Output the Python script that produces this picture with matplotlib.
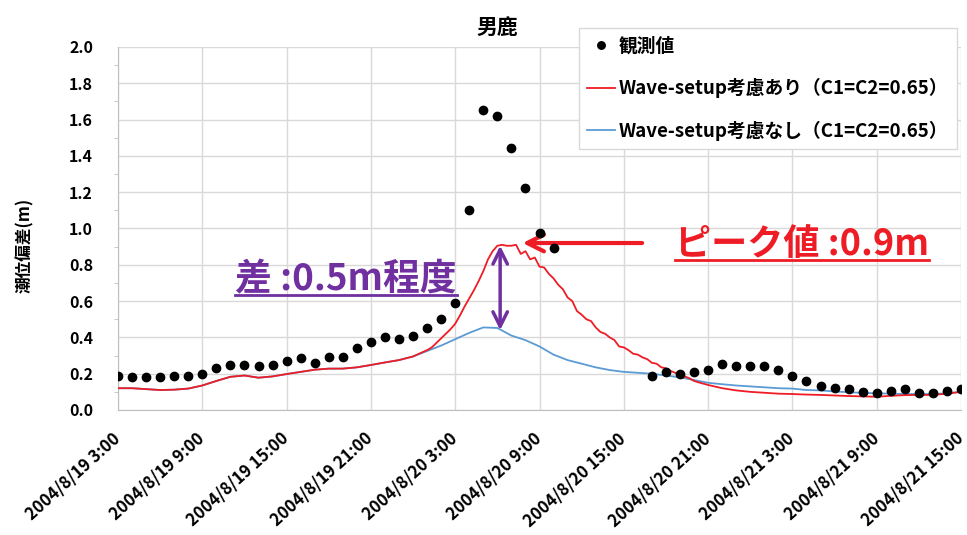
import numpy as np
import pandas as pd
import matplotlib
matplotlib.use('Agg')
import matplotlib.pyplot as plt
from matplotlib.ticker import MultipleLocator, FuncFormatter
from matplotlib.lines import Line2D
from matplotlib.transforms import ScaledTranslation

plt.rcParams['font.family'] = ['Noto Sans CJK JP', 'DejaVu Sans']
plt.rcParams['font.weight'] = 'bold'

start = pd.Timestamp('2004-08-19 03:00')

# observed (hourly from 2004/8/19 3:00), NaN = missing
obs = [0.19, 0.18, 0.18, 0.18, 0.19, 0.19, 0.20, 0.233, 0.25, 0.25,
       0.244, 0.25, 0.27, 0.285, 0.26, 0.294, 0.294, 0.343, 0.373, 0.402,
       0.391, 0.41, 0.45, 0.503, 0.591, 1.10, 1.653, 1.62, 1.442, 1.223,
       0.973, 0.89, np.nan, np.nan, np.nan, np.nan, np.nan, np.nan, 0.19, 0.211,
       0.20, 0.211, 0.222, 0.252, 0.244, 0.244, 0.244, 0.222, 0.19, 0.161,
       0.134, 0.12, 0.114, 0.10, 0.094, 0.105, 0.116, 0.094, 0.094, 0.105,
       0.116]

# without wave-setup (hourly)
blue = [0.12, 0.12, 0.115, 0.11, 0.112, 0.118, 0.135, 0.16, 0.183, 0.19,
        0.178, 0.185, 0.198, 0.21, 0.222, 0.228, 0.228, 0.235, 0.248, 0.262,
        0.275, 0.295, 0.325, 0.355, 0.39, 0.425, 0.455, 0.452, 0.41, 0.385,
        0.35, 0.305, 0.275, 0.255, 0.235, 0.22, 0.21, 0.205, 0.20, 0.19,
        0.18, 0.165, 0.15, 0.142, 0.135, 0.13, 0.125, 0.12, 0.118, 0.11,
        0.108, 0.102, 0.098, 0.094, 0.092, 0.09, 0.088, 0.088, 0.088, 0.092,
        0.10]

# with wave-setup: hourly 0-21h, every 20 min 22-42h, hourly 43-60h
red_a = [0.12, 0.12, 0.115, 0.11, 0.112, 0.118, 0.135, 0.16, 0.183, 0.19,
         0.178, 0.185, 0.198, 0.21, 0.222, 0.228, 0.228, 0.235, 0.248, 0.262,
         0.275, 0.295]
red_b = [0.33, 0.345, 0.37, 0.395, 0.42, 0.445, 0.475, 0.52, 0.57, 0.615,
         0.66, 0.71, 0.765, 0.83, 0.875, 0.905, 0.91, 0.905,
         0.905, 0.91, 0.86, 0.875, 0.83, 0.84, 0.79, 0.785, 0.75, 0.725,
         0.69, 0.665, 0.62, 0.60, 0.545, 0.525, 0.50, 0.49, 0.455, 0.43,
         0.42, 0.40, 0.385, 0.35, 0.345, 0.33, 0.31, 0.305, 0.29, 0.28,
         0.26, 0.255, 0.235, 0.23, 0.215, 0.205, 0.195, 0.185, 0.175, 0.16,
         0.152, 0.145, 0.138]
red_c = [0.12, 0.108, 0.10, 0.095, 0.09, 0.088, 0.085, 0.083, 0.08, 0.077,
         0.075, 0.073, 0.078, 0.082, 0.083, 0.083, 0.09, 0.10]

obs_t = start + pd.to_timedelta(np.arange(len(obs)), unit='h')
blue_t = start + pd.to_timedelta(np.arange(len(blue)), unit='h')
red_hours = np.concatenate([np.arange(len(red_a)),
                            22 + np.arange(len(red_b)) / 3.0,
                            43 + np.arange(len(red_c))])
red = red_a + red_b + red_c
red_t = start + pd.to_timedelta(red_hours, unit='h')

c_red = '#EE1C25'
c_blue = '#5B9BD5'
c_purple = '#7030A0'
c_grid = '#D9D9D9'

fig = plt.figure(figsize=(9.67, 5.35), dpi=100)
ax = fig.add_axes([118/967, 1-410/535, (961-118)/967, (410-47)/535])

ax.plot(obs_t, obs, 'o', color='black', markersize=6, label='観測値', zorder=4)
ax.plot(red_t, red, '-', color=c_red, lw=1.3, label='Wave-setup考慮あり（C1=C2=0.65）', zorder=3)
ax.plot(blue_t, blue, '-', color=c_blue, lw=1.3, label='Wave-setup考慮なし（C1=C2=0.65）', zorder=2)

ax.set_ylim(0, 2.0)
ax.set_xlim(start, start + pd.Timedelta(hours=60))
ticks = [start + pd.Timedelta(hours=6*i) for i in range(11)]
ax.set_xticks(ticks)
ax.set_xticklabels([f'{d.year}/{d.month}/{d.day} {d.hour}:{d.minute:02d}' for d in ticks],
                   rotation=42, ha='right', va='center', rotation_mode='anchor',
                   fontsize=12, fontweight='bold')
shift = ScaledTranslation(-7/72, 0, fig.dpi_scale_trans)
for lab in ax.get_xticklabels():
    lab.set_transform(lab.get_transform() + shift)
ax.yaxis.set_major_locator(MultipleLocator(0.2))
ax.yaxis.set_minor_locator(MultipleLocator(0.1))
ax.yaxis.set_major_formatter(FuncFormatter(lambda v, p: f'{v:.1f}'))
for lab in ax.get_yticklabels():
    lab.set_fontsize(11.5)
    lab.set_fontweight('bold')
ax.tick_params(axis='y', which='major', length=0, pad=18)
ax.tick_params(axis='y', which='minor', length=3, color='#BFBFBF')
ax.tick_params(axis='x', length=0, pad=19)
ax.grid(True, color=c_grid, lw=1)
ax.set_axisbelow(True)
for s in ['top', 'right']:
    ax.spines[s].set_visible(False)
for s in ['left', 'bottom']:
    ax.spines[s].set_color('#BFBFBF')

fig.text(25/967, 1-245/535, '潮位偏差(m)', rotation=90, ha='center', va='center',
         fontsize=12, fontweight='bold')
fig.text(497/967, 1-27/535, '男鹿', ha='center', va='center', fontsize=15, fontweight='bold')

leg = fig.legend(loc='upper right', bbox_to_anchor=(957/967, 1-28/535), fontsize=13.5,
                 frameon=True, fancybox=False, edgecolor='#D9D9D9', framealpha=1,
                 handlelength=1.5, handletextpad=0.2, labelspacing=1.2, borderpad=0.45,
                 borderaxespad=0, markerscale=0.9)
for t in leg.get_texts():
    t.set_fontweight('bold')

# annotations
ax.annotate('', xy=(start + pd.Timedelta(hours=28.6), 0.92),
            xytext=(start + pd.Timedelta(hours=37.5), 0.92),
            arrowprops=dict(arrowstyle='->', color=c_red, lw=3, mutation_scale=30))
ax.annotate('', xy=(start + pd.Timedelta(hours=27.2), 0.905),
            xytext=(start + pd.Timedelta(hours=27.2), 0.44),
            arrowprops=dict(arrowstyle='<->', color=c_purple, lw=2.5, mutation_scale=26,
                            shrinkA=0, shrinkB=0))

t1 = fig.text(802/967, 1-245/535, 'ピーク値 :0.9m', ha='center', va='center',
              fontsize=26, fontweight='bold', color=c_red)
t2 = fig.text(346/967, 1-280/535, '差 :0.5m程度', ha='center', va='center',
              fontsize=26.5, fontweight='bold', color=c_purple)

fig.canvas.draw()
r = fig.canvas.get_renderer()
for t, col in [(t1, c_red), (t2, c_purple)]:
    bb = t.get_window_extent(r).transformed(fig.transFigure.inverted())
    fig.add_artist(Line2D([bb.x0, bb.x1], [bb.y0 + 0.006, bb.y0 + 0.006],
                          transform=fig.transFigure, color=col, lw=2))

fig.savefig('out.png', dpi=100)
